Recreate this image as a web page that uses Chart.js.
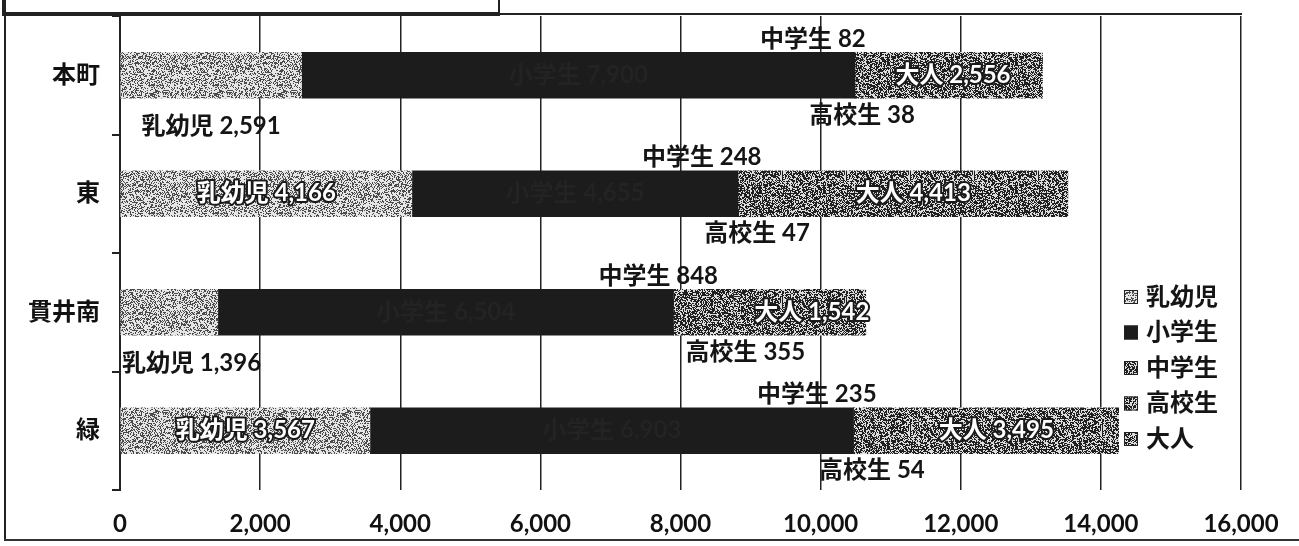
<!DOCTYPE html>
<html lang="ja">
<head>
<meta charset="utf-8">
<title>地区別 年齢層別 利用者数</title>
<script src="https://cdn.jsdelivr.net/npm/chart.js@4.4.1/dist/chart.umd.min.js"></script>
<style>
  html, body { margin: 0; padding: 0; background: #fff; }
  #wrap { position: relative; width: 1299px; height: 546px; overflow: hidden; }
  #wrap canvas { position: absolute; left: 0; top: 0; }
  .line { position: absolute; background: #222; }
  .caption-box { position: absolute; left: 2px; top: -4px; width: 494px; height: 14px; border: 2px solid #222; border-bottom-width: 4px; background: #fff; }
</style>
</head>
<body>
<div id="wrap">
  <canvas id="c" width="1299" height="546"></canvas>
  <div class="caption-box"></div>
  <div class="line" style="left:4px;top:0;width:2px;height:541px"></div>
  <div class="line" style="left:4px;top:13px;width:1238px;height:2px"></div>
  <div class="line" style="left:4px;top:539px;width:1295px;height:2px;background:#333"></div>
</div>
<script>
const categories = ["本町", "東", "貫井南", "緑"];
const seriesNames = ["乳幼児", "小学生", "中学生", "高校生", "大人"];
const infants = [2591, 4166, 1396, 3567];
const elementary = [7900, 4655, 6504, 6903];
const juniorHigh = [82, 248, 848, 235];
const highSchool = [38, 47, 355, 54];
const adults = [2556, 4413, 1542, 3495];
const xTickValues = [0, 2000, 4000, 6000, 8000, 10000, 12000, 14000, 16000];

// 乳幼児ラベルを棒の下に出す地区
const infantLabelBelow = [true, false, true, false];

const JP_FONT = "Lato, 'Noto Sans CJK JP', sans-serif";

// ざらついた網掛け（決まった式で作るので毎回同じ模様）
function grainPattern(dark, light, density, seed) {
  const size = 64;
  const cv = document.createElement("canvas");
  cv.width = size; cv.height = size;
  const g = cv.getContext("2d");
  const img = g.createImageData(size, size);
  const d = hex(dark), l = hex(light);
  for (let y = 0; y < size; y++) {
    for (let x = 0; x < size; x++) {
      let h = (x * 374761393 + y * 668265263 + seed * 2246822519) | 0;
      h = Math.imul(h ^ (h >>> 13), 1274126177);
      h = (h ^ (h >>> 16)) >>> 0;
      const c = (h % 1000) / 1000 < density ? d : l;
      const k = (y * size + x) * 4;
      img.data[k] = c[0]; img.data[k + 1] = c[1]; img.data[k + 2] = c[2]; img.data[k + 3] = 255;
    }
  }
  g.putImageData(img, 0, 0);
  return g.createPattern(cv, "repeat");
}
function hex(s) {
  const n = parseInt(s.slice(1), 16);
  return [(n >> 16) & 255, (n >> 8) & 255, n & 255];
}

const ctx = document.getElementById("c").getContext("2d");
const fills = [
  grainPattern("#4a4a4a", "#e6e6e6", 0.38, 1),
  "#1c1c1c",
  grainPattern("#202020", "#dcdcdc", 0.58, 2),
  grainPattern("#202020", "#dcdcdc", 0.58, 3),
  grainPattern("#202020", "#dcdcdc", 0.58, 4),
];
const seriesValues = [infants, elementary, juniorHigh, highSchool, adults];

const segmentLabels = {
  id: "segmentLabels",
  afterDatasetsDraw(chart) {
    const { ctx, chartArea } = chart;
    ctx.save();
    ctx.font = `bold 24px ${JP_FONT}`;
    ctx.textBaseline = "middle";
    ctx.textAlign = "center";
    ctx.lineJoin = "round";
    chart.data.datasets.forEach((ds, i) => {
      chart.getDatasetMeta(i).data.forEach((bar, j) => {
        const text = `${ds.label} ${ds.data[j].toLocaleString("en-US")}`;
        const w = ctx.measureText(text).width;
        const mid = (bar.x + bar.base) / 2;
        const top = bar.y - bar.height / 2;
        const bottom = bar.y + bar.height / 2;
        let x = mid, y = bar.y, inside = true;
        if (i === 0 && infantLabelBelow[j]) {
          inside = false;
          x = Math.max(mid, chartArea.left + w / 2 + 2);
          y = bottom + 28;
        } else if (i === 2) {
          inside = false; x = mid - 45; y = top - 13;
        } else if (i === 3) {
          inside = false; y = bottom + 17;
        }
        if (!inside) {
          ctx.fillStyle = "#151515";
          ctx.fillText(text, x, y);
        } else if (i === 1) {
          // 黒地に黒文字：ほとんど見えない
          ctx.fillStyle = "#232323";
          ctx.fillText(text, x, y);
        } else {
          ctx.lineWidth = 4;
          ctx.strokeStyle = "#1a1a1a";
          ctx.strokeText(text, x, y);
          ctx.fillStyle = "#fff";
          ctx.fillText(text, x, y);
        }
      });
    });
    ctx.restore();
  },
};

const boxLegend = {
  id: "boxLegend",
  afterDraw(chart) {
    const { ctx } = chart;
    ctx.save();
    ctx.font = `bold 24px ${JP_FONT}`;
    ctx.textBaseline = "middle";
    ctx.textAlign = "left";
    chart.data.datasets.forEach((ds, i) => {
      const cy = 297 + i * 35.5;
      ctx.fillStyle = ds.backgroundColor;
      ctx.fillRect(1124, cy - 7, 14, 14);
      ctx.strokeStyle = "#222";
      ctx.lineWidth = 1;
      ctx.strokeRect(1124.5, cy - 6.5, 13, 13);
      ctx.fillStyle = "#151515";
      ctx.fillText(ds.label, 1146, cy);
    });
    ctx.restore();
  },
};

new Chart(ctx, {
  type: "bar",
  data: {
    labels: categories,
    datasets: seriesNames.map((name, i) => ({
      label: name,
      data: seriesValues[i],
      backgroundColor: fills[i],
      borderWidth: 0,
      barThickness: 46,
    })),
  },
  options: {
    indexAxis: "y",
    responsive: false,
    animation: false,
    layout: { padding: { left: 8, right: 58, top: 16, bottom: 0 } },
    plugins: { legend: { display: false }, tooltip: { enabled: false } },
    scales: {
      x: {
        stacked: true,
        min: 0,
        max: 16000,
        afterBuildTicks: (s) => { s.ticks = xTickValues.map((v) => ({ value: v })); },
        afterFit: (s) => { s.height = 56; s.paddingLeft = 0; s.paddingRight = 0; },
        grid: { color: "#222", lineWidth: 1.5, drawTicks: false },
        border: { display: false },
        ticks: {
          color: "#111",
          padding: 20,
          maxRotation: 0,
          autoSkip: false,
          font: { family: JP_FONT, size: 24, weight: "bold" },
          callback: (v) => Number(v).toLocaleString("en-US"),
        },
      },
      y: {
        stacked: true,
        afterFit: (s) => { s.width = 112; s.paddingTop = 0; s.paddingBottom = 0; },
        grid: { drawOnChartArea: false, color: "#222", lineWidth: 2, tickLength: 8, offset: true },
        border: { display: true, color: "#222", width: 2 },
        ticks: { color: "#111", padding: 12, font: { family: JP_FONT, size: 24, weight: "bold" } },
      },
    },
  },
  plugins: [segmentLabels, boxLegend],
});
</script>
</body>
</html>
